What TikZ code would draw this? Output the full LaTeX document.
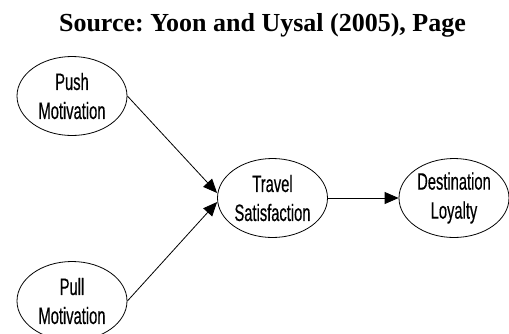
\documentclass[tikz,border=0pt]{standalone}
\usepackage{fontspec}
\setmainfont{Liberation Serif}
\newfontfamily\narrowfont[FakeStretch=0.62,FakeBold=0.4]{Liberation Sans}
\usetikzlibrary{shapes.geometric,arrows.meta}
\frenchspacing

\tikzset{
  construct/.style={draw, line width=0.8pt, ellipse, inner sep=0pt,
    minimum width=110pt, minimum height=79pt, align=center,
    font={\narrowfont\fontsize{23.7}{29}\selectfont}},
  path/.style={draw, line width=0.8pt,
    -{Triangle[length=14pt,width=12pt]}},
  heading/.style={anchor=base, inner sep=0pt,
    font={\bfseries\fontsize{26}{30}\selectfont}}
}

\begin{document}
\begin{tikzpicture}[x=1pt, y=-1pt]
  \useasboundingbox (0,0) rectangle (509,333);
  \clip (0,0) rectangle (509,333);
  \fill[white] (0,0) rectangle (509,333);

  \node[heading] (title) at (262.5,31) {Source: Yoon and Uysal (2005), Page};

  \node[construct] (push) at (72,96) {Push\\Motivation};
  \node[construct] (pull) at (72,301) {Pull\\Motivation};
  \node[construct] (sat) at (272.5,198) {Travel\\Satisfaction};
  \node[construct] (loy) at (454,198) {Destination\\Loyalty};

  \draw[path] (push.east) -- ([yshift=5pt]sat.west);
  \draw[path] (pull.east) -- ([yshift=-4pt]sat.west);
  \draw[path] (sat.east) -- (loy.west);
\end{tikzpicture}
\end{document}
